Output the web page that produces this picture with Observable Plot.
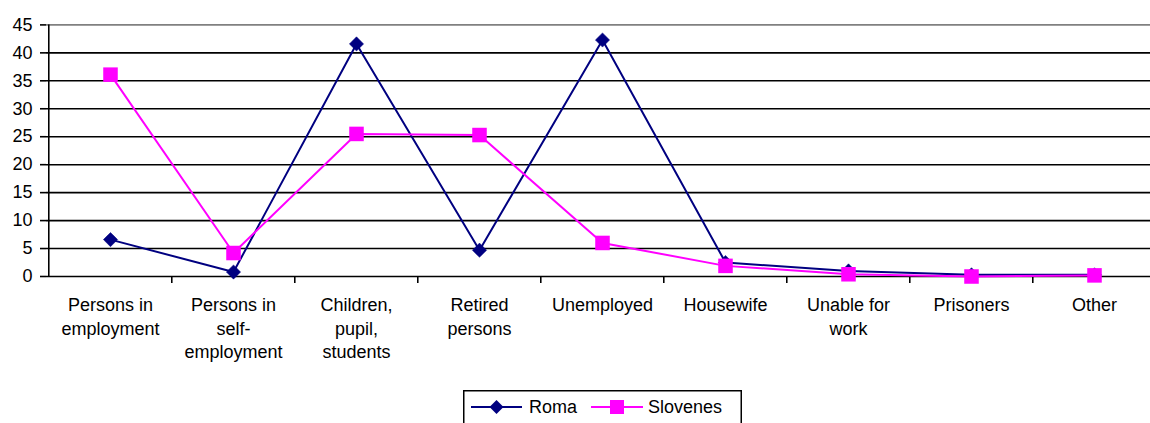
<!DOCTYPE html>
<html>
<head>
<meta charset="utf-8">
<script src="https://cdn.jsdelivr.net/npm/d3@7"></script>
<script src="https://cdn.jsdelivr.net/npm/@observablehq/plot@0.6"></script>
<style>
  html, body { margin: 0; padding: 0; background: #fff; }
  body { width: 1150px; height: 423px; overflow: hidden; font-family: "Liberation Sans", Arial, sans-serif; }
  #legend { margin-left: 463px; margin-top: 2px; }
</style>
</head>
<body>
<div id="chart"></div>
<div id="legend"></div>
<script>
const categories = ["Persons in employment", "Persons in self-employment", "Children, pupil, students", "Retired persons", "Unemployed", "Housewife", "Unable for work", "Prisoners", "Other"];
const tickLabels = ["Persons in\nemployment", "Persons in\nself-\nemployment", "Children,\npupil,\nstudents", "Retired\npersons", "Unemployed", "Housewife", "Unable for\nwork", "Prisoners", "Other"];
const roma = [6.6, 0.8, 41.6, 4.7, 42.3, 2.5, 1.0, 0.3, 0.3];
const slovenes = [36.1, 4.2, 25.5, 25.3, 6.0, 1.9, 0.4, 0.0, 0.2];
const yTicks = [0, 5, 10, 15, 20, 25, 30, 35, 40, 45];
const seriesNames = ["Roma", "Slovenes"];
const seriesColors = ["#000080", "#FF00FF"];

const romaRows = categories.map((c, i) => ({category: c, value: roma[i]}));
const sloRows = categories.map((c, i) => ({category: c, value: slovenes[i]}));

const W = 1150, H = 388;
const xLeft = 46, xRight = 1157;
const step = (xRight - xLeft) / categories.length;

const chart = Plot.plot({
  width: W,
  height: H,
  marginLeft: xLeft,
  marginRight: 0,
  marginTop: 24.4,
  marginBottom: H - 276,
  style: {fontFamily: "'Liberation Sans', Arial, sans-serif", fontSize: "18px", color: "#000", background: "#fff", overflow: "visible"},
  x: {type: "point", domain: categories, range: [xLeft, xRight], padding: 0.5, label: null},
  y: {domain: [0, 45], label: null},
  marks: [
    Plot.ruleY(yTicks.filter(t => t < 45), {stroke: "#000", strokeWidth: 1.6}),
    Plot.ruleY([45], {stroke: "#808080", strokeWidth: 1.6}),
    Plot.ruleX([categories[0]], {dx: -step / 2, y1: 0, y2: 45, stroke: "#000", strokeWidth: 1.6}),
    Plot.ruleX(categories.slice(1), {dx: -step / 2, y1: 0, y2: 0, insetBottom: -7, stroke: "#000", strokeWidth: 1.6}),
    Plot.axisY({ticks: yTicks, tickSize: 6, tickPadding: 8, fontSize: 18, label: null, stroke: "#000", strokeWidth: 1.6, fill: "#000"}),
    Plot.axisX({tickSize: 0, tickPadding: 18, fontSize: 18, lineHeight: 1.3, label: null, fill: "#000",
      tickFormat: d => tickLabels[categories.indexOf(d)]}),
    Plot.line(romaRows, {x: "category", y: "value", stroke: seriesColors[0], strokeWidth: 2}),
    Plot.dot(romaRows, {x: "category", y: "value", symbol: "diamond2", r: 6.4, fill: seriesColors[0], stroke: seriesColors[0], strokeWidth: 0.5}),
    Plot.line(sloRows, {x: "category", y: "value", stroke: seriesColors[1], strokeWidth: 2}),
    Plot.dot(sloRows, {x: "category", y: "value", symbol: "square", r: 8.2, fill: seriesColors[1], stroke: "none"})
  ]
});
document.getElementById("chart").appendChild(chart);

// Legend
const lg = d3.select("#legend").append("svg").attr("width", 280).attr("height", 40);
lg.append("rect").attr("x", 0.75).attr("y", 0.75).attr("width", 277.5).attr("height", 45)
  .attr("fill", "#fff").attr("stroke", "#000").attr("stroke-width", 1.5);
const items = [
  {x0: 8, x1: 59, tx: 66, sym: d3.symbolDiamond2, size: Math.pow(7 / 0.62625, 2)},
  {x0: 128, x1: 180, tx: 185, sym: d3.symbolSquare, size: 14 * 14}
];
items.forEach((it, i) => {
  const cy = 17;
  lg.append("line").attr("x1", it.x0).attr("x2", it.x1).attr("y1", cy).attr("y2", cy)
    .attr("stroke", seriesColors[i]).attr("stroke-width", 2);
  lg.append("path").attr("d", d3.symbol(it.sym, it.size)())
    .attr("transform", `translate(${(it.x0 + it.x1) / 2},${cy})`).attr("fill", seriesColors[i]);
  lg.append("text").attr("x", it.tx).attr("y", cy).attr("dy", "0.35em")
    .attr("font-family", "'Liberation Sans', Arial, sans-serif").attr("font-size", 18).attr("fill", "#000")
    .text(seriesNames[i]);
});
</script>
</body>
</html>
